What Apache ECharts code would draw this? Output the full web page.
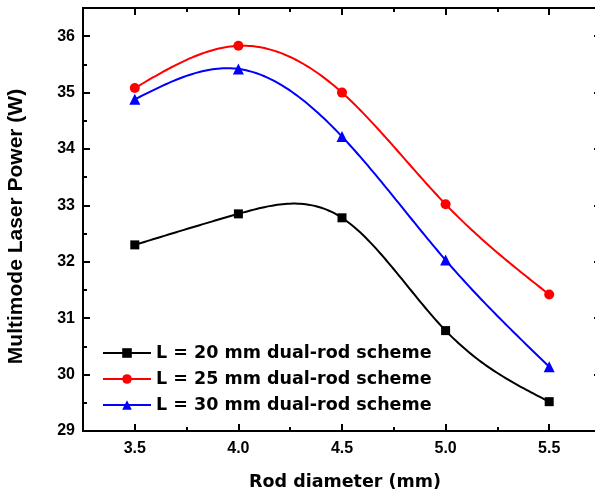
<!DOCTYPE html>
<html>
<head>
<meta charset="utf-8">
<script src="https://cdn.jsdelivr.net/npm/echarts@6/dist/echarts.min.js"></script>
<style>html,body{margin:0;padding:0;background:#fff;}#c{width:595px;height:495px;}</style>
</head>
<body>
<div id="c"></div>
<script>
var diameters = [3.5, 4.0, 4.5, 5.0, 5.5];
var L20 = [32.30, 32.85, 32.78, 30.78, 29.52];
var L25 = [35.08, 35.83, 35.00, 33.02, 31.42];
var L30 = [34.88, 35.42, 34.22, 32.03, 30.14];
var seriesNames = ['L = 20 mm dual-rod scheme', 'L = 25 mm dual-rod scheme', 'L = 30 mm dual-rod scheme'];
var seriesColors = ['#000000', '#ff0000', '#0000ff'];
var xMajor = [3.5, 4.0, 4.5, 5.0, 5.5];
var xMinor = [3.75, 4.25, 4.75, 5.25];
var yMajor = [29, 30, 31, 32, 33, 34, 35, 36];
var yMinor = [29.5, 30.5, 31.5, 32.5, 33.5, 34.5, 35.5];

var X_MIN = 3.25, X_MAX = 5.75, Y_MIN = 29, Y_MAX = 36.5;
var tickFont = {fontFamily: 'Liberation Sans, Arial', fontWeight: 'bold', fontSize: 16, color: '#000'};

function axisLine() { return {show: true, lineStyle: {color: '#000', width: 2}}; }
function xAxisDef(pos, vals, len, labels, extra) {
  var a = {
    type: 'value', position: pos, min: X_MIN, max: X_MAX,
    axisLine: axisLine(), splitLine: {show: false},
    axisTick: {show: true, inside: true, length: len, customValues: vals, lineStyle: {color: '#000', width: 2}},
    axisLabel: labels ? Object.assign({show: true, margin: 10, customValues: vals,
      formatter: function (v) { return v.toFixed(1); }}, tickFont) : {show: false}
  };
  return Object.assign(a, extra || {});
}
function yAxisDef(pos, vals, len, labels, extra) {
  var a = {
    type: 'value', position: pos, min: Y_MIN, max: Y_MAX,
    axisLine: axisLine(), splitLine: {show: false},
    axisTick: {show: true, inside: true, length: len, customValues: vals, lineStyle: {color: '#000', width: 2}},
    axisLabel: labels ? Object.assign({show: true, margin: 8, customValues: vals}, tickFont) : {show: false}
  };
  return Object.assign(a, extra || {});
}

function pts(ys) { return diameters.map(function (x, i) { return [x, ys[i]]; }); }

// Natural cubic spline through pixel coordinates (x increasing), sampled for drawing.
function splinePath(p) {
  var n = p.length, i;
  var h = [], a = [], b = [], c = [], d = [], M = new Array(n).fill(0);
  for (i = 0; i < n - 1; i++) h.push(p[i + 1][0] - p[i][0]);
  if (n > 2) {
    var m = n - 2;
    for (i = 1; i < n - 1; i++) {
      a.push(h[i - 1]); b.push(2 * (h[i - 1] + h[i])); c.push(h[i]);
      d.push(6 * ((p[i + 1][1] - p[i][1]) / h[i] - (p[i][1] - p[i - 1][1]) / h[i - 1]));
    }
    for (i = 1; i < m; i++) {
      var w = a[i] / b[i - 1];
      b[i] -= w * c[i - 1]; d[i] -= w * d[i - 1];
    }
    var sol = new Array(m);
    sol[m - 1] = d[m - 1] / b[m - 1];
    for (i = m - 2; i >= 0; i--) sol[i] = (d[i] - c[i] * sol[i + 1]) / b[i];
    for (i = 0; i < m; i++) M[i + 1] = sol[i];
  }
  var out = [];
  for (i = 0; i < n - 1; i++) {
    var steps = 40;
    for (var k = (i === 0 ? 0 : 1); k <= steps; k++) {
      var t = k / steps, hi = h[i];
      var x = p[i][0] + t * hi;
      var A = 1 - t, B = t;
      var y = A * p[i][1] + B * p[i + 1][1] +
        ((A * A * A - A) * M[i] + (B * B * B - B) * M[i + 1]) * hi * hi / 6;
      out.push([x, y]);
    }
  }
  return out;
}

function splineSeries(ys, color) {
  return {
    type: 'custom', data: pts(ys), encode: {x: 0, y: 1}, z: 1, silent: true, clip: true,
    renderItem: function (params, api) {
      if (params.dataIndex !== 0) return null;
      var coords = diameters.map(function (x, i) { return api.coord([x, ys[i]]); });
      return {
        type: 'polyline',
        shape: {points: splinePath(coords)},
        style: {stroke: color, lineWidth: 2, fill: null}
      };
    }
  };
}

var chart = echarts.init(document.getElementById('c'), null, {renderer: 'canvas'});
chart.setOption({
  animation: false,
  backgroundColor: '#fff',
  grid: {left: 83, width: 518, top: 8, height: 423, containLabel: false, outerBoundsMode: 'none'},
  xAxis: [
    xAxisDef('bottom', xMajor, 7, true, {
      name: 'Rod diameter (mm)', nameLocation: 'middle', nameGap: 42,
      nameTextStyle: {fontFamily: 'DejaVu Sans', fontWeight: 'bold', fontSize: 17.5, color: '#000', padding: [0, 0, 0, 6]}
    }),
    xAxisDef('bottom', xMinor, 4, false),
    xAxisDef('top', xMajor, 7, false),
    xAxisDef('top', xMinor, 4, false)
  ],
  yAxis: [
    yAxisDef('left', yMajor, 7, true, {
      name: 'Multimode Laser Power (W)', nameLocation: 'middle', nameGap: 56, nameRotate: 90,
      nameTextStyle: {fontFamily: 'Liberation Sans, Arial', fontWeight: 'bold', fontSize: 21, color: '#000', padding: [0, 14, 0, 0]}
    }),
    yAxisDef('left', yMinor, 4, false),
    yAxisDef('right', yMajor, 7, false),
    yAxisDef('right', yMinor, 4, false)
  ],
  legend: {
    left: 102, top: 340, orient: 'vertical', padding: 0, itemGap: 0,
    itemWidth: 48, itemHeight: 12,
    lineStyle: {opacity: 1, width: 2},
    textStyle: {fontFamily: 'DejaVu Sans', fontWeight: 'bold', fontSize: 17.5, color: '#000', lineHeight: 26},
    data: seriesNames
  },
  series: [
    splineSeries(L20, seriesColors[0]),
    splineSeries(L25, seriesColors[1]),
    splineSeries(L30, seriesColors[2]),
    {name: seriesNames[0], type: 'line', data: pts(L20), symbol: 'rect', symbolSize: 9, z: 3,
     itemStyle: {color: seriesColors[0]}, lineStyle: {color: seriesColors[0], width: 2, opacity: 0}},
    {name: seriesNames[1], type: 'line', data: pts(L25), symbol: 'circle', symbolSize: 10, z: 3,
     itemStyle: {color: seriesColors[1]}, lineStyle: {color: seriesColors[1], width: 2, opacity: 0}},
    {name: seriesNames[2], type: 'line', data: pts(L30), symbol: 'triangle', symbolSize: 11, z: 3,
     itemStyle: {color: seriesColors[2]}, lineStyle: {color: seriesColors[2], width: 2, opacity: 0}}
  ]
});
</script>
</body>
</html>
